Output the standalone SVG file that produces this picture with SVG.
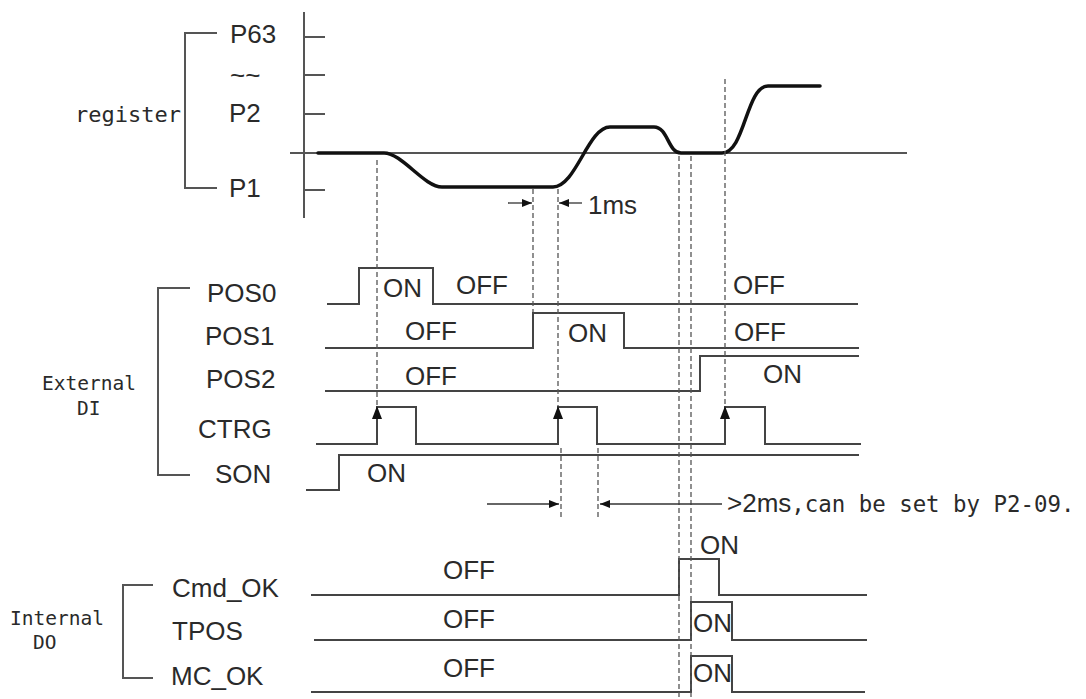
<svg xmlns="http://www.w3.org/2000/svg" width="1086" height="699" viewBox="0 0 1086 699">
<defs>
<style>
.bg{fill:#fff}
.sans{font-family:"Liberation Sans",Arial,sans-serif;font-size:26px;fill:#2a2a2a}
.mono{font-family:"DejaVu Sans Mono","Liberation Mono",monospace;fill:#2a2a2a}
.ln{fill:none;stroke:#444;stroke-width:2}
.ax{fill:none;stroke:#555;stroke-width:2}
.wave{fill:none;stroke:#111;stroke-width:3.5;stroke-linejoin:round;stroke-linecap:round}
.dash{fill:none;stroke:#555;stroke-width:1.3;stroke-dasharray:5 3}
.thin{fill:none;stroke:#333;stroke-width:1.3}
.head{fill:#111}
</style>
<marker id="ah" viewBox="0 0 10 10" refX="10" refY="5" markerWidth="10" markerHeight="10" markerUnits="userSpaceOnUse" orient="auto">
<path d="M0,1 L10,5 L0,9 Z" fill="#111"/>
</marker>
</defs>
<rect class="bg" x="0" y="0" width="1086" height="699"/>

<g id="register-group">
<path class="ax" d="M217,33 H185 V188 H217"/>
<text class="mono" x="75" y="122" font-size="22">register</text>
<text class="sans" x="230" y="43">P63</text>
<text class="sans" x="230" y="84">~~</text>
<text class="sans" x="229" y="122">P2</text>
<text class="sans" x="229" y="197">P1</text>
</g>

<g id="position-axis">
<path class="ax" d="M304,12 V218"/>
<path class="ax" d="M305,37 H325 M305,75 H325 M305,114 H325 M305,190 H325"/>
<path class="ax" d="M290,153 H907"/>
</g>

<g id="position-wave">
<path class="wave" d="M318,153 L384,153 C402,153 424,187 442,187 L553,187 C576,187 588,127 610,127 L654,127 C668,127 668,153 681,153 L722,153 C745,153 746,86 768,86 L820,86"/>
</g>

<g id="external-di">
<path class="ax" d="M190,288 H158 V475 H190"/>
<text class="mono" x="42" y="390" font-size="19.5">External</text>
<text class="mono" x="77" y="415" font-size="19.5">DI</text>
</g>

<g id="POS0">
<text class="sans" x="207" y="302">POS0</text>
<path class="ln" d="M327,304 H359 V268 H433 V304 H858"/>
<text class="sans" x="383" y="297">ON</text>
<text class="sans" x="456" y="294">OFF</text>
<text class="sans" x="733" y="294">OFF</text>
</g>

<g id="POS1">
<text class="sans" x="205" y="345">POS1</text>
<path class="ln" d="M325,348 H533 V313 H624 V348 H859"/>
<text class="sans" x="405" y="340">OFF</text>
<text class="sans" x="568" y="342">ON</text>
<text class="sans" x="734" y="341">OFF</text>
</g>

<g id="POS2">
<text class="sans" x="206" y="388">POS2</text>
<path class="ln" d="M325,391 H700 V356 H859"/>
<text class="sans" x="405" y="385">OFF</text>
<text class="sans" x="763" y="383">ON</text>
</g>

<g id="CTRG">
<text class="sans" x="198" y="438">CTRG</text>
<path class="ln" d="M316,444 H377 V407 H416 V444 H558 V407 H597 V444 H725 V407 H765 V444 H861"/>
<path class="head" d="M377,406 L372,419 L382,419 Z"/>
<path class="head" d="M558,406 L553,419 L563,419 Z"/>
<path class="head" d="M725,406 L720,419 L730,419 Z"/>
</g>

<g id="SON">
<text class="sans" x="215" y="483">SON</text>
<path class="ln" d="M306,490 H339 V455 H859"/>
<text class="sans" x="367" y="482">ON</text>
</g>

<g id="internal-do">
<path class="ax" d="M153,585 H123 V678 H153"/>
<text class="mono" x="10" y="625" font-size="19.5">Internal</text>
<text class="mono" x="33" y="649" font-size="19.5">DO</text>
</g>

<g id="Cmd_OK">
<text class="sans" x="172" y="597">Cmd_OK</text>
<path class="ln" d="M311,595 H679 V559 H719 V595 H867"/>
<text class="sans" x="443" y="579">OFF</text>
<text class="sans" x="700" y="554">ON</text>
</g>

<g id="TPOS">
<text class="sans" x="172" y="640">TPOS</text>
<path class="ln" d="M314,640 H691 V602 H732 V640 H867"/>
<text class="sans" x="443" y="628">OFF</text>
<text class="sans" x="693" y="632">ON</text>
</g>

<g id="MC_OK">
<text class="sans" x="171" y="685">MC_OK</text>
<path class="ln" d="M311,692 H691 V656 H732 V692 H865"/>
<text class="sans" x="443" y="677">OFF</text>
<text class="sans" x="693" y="682">ON</text>
</g>

<g id="connectors">
<path class="dash" d="M377,160 V406"/>
<path class="dash" d="M533,189 V312"/>
<path class="dash" d="M558,189 V406"/>
<path class="dash" d="M561,448 V518"/>
<path class="dash" d="M598,448 V518"/>
<path class="dash" d="M679,156 V699"/>
<path class="dash" d="M691,156 V699"/>
<path class="dash" d="M725,79 V406"/>
<path class="thin" d="M508,203 H532" marker-end="url(#ah)"/>
<path class="thin" d="M582,203 H559" marker-end="url(#ah)"/>
<text class="sans" x="588" y="214">1ms</text>
<path class="thin" d="M487,504 H559" marker-end="url(#ah)"/>
<path class="thin" d="M722,504 H600" marker-end="url(#ah)"/>
<text x="727" y="512"><tspan class="sans" font-size="27">&gt;2ms</tspan><tspan class="mono" font-size="22.4">,can be set by P2-09.</tspan></text>
</g>
</svg>
